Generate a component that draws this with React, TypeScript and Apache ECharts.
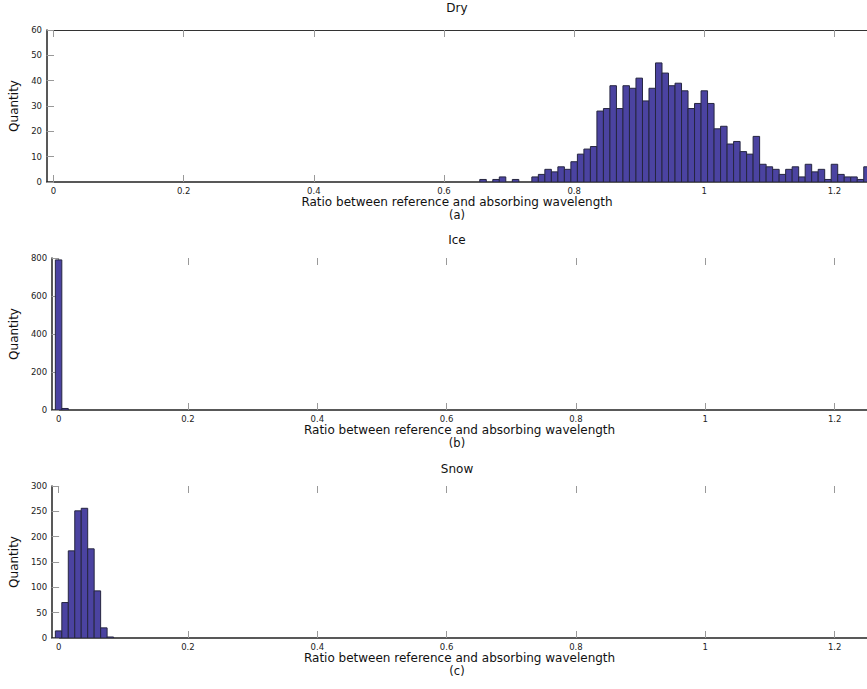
import React, { useEffect, useRef } from "react";
import * as echarts from "echarts";

// ---- Data ----
const dryBins = [
  0.66, 0.67, 0.68, 0.69, 0.7, 0.71, 0.72, 0.73, 0.74, 0.75, 0.76, 0.77, 0.78, 0.79,
  0.8, 0.81, 0.82, 0.83, 0.84, 0.85, 0.86, 0.87, 0.88, 0.89, 0.9, 0.91, 0.92, 0.93,
  0.94, 0.95, 0.96, 0.97, 0.98, 0.99, 1.0, 1.01, 1.02, 1.03, 1.04, 1.05, 1.06, 1.07,
  1.08, 1.09, 1.1, 1.11, 1.12, 1.13, 1.14, 1.15, 1.16, 1.17, 1.18, 1.19, 1.2, 1.21,
  1.22, 1.23, 1.24, 1.25,
];
const dryCounts = [
  1, 0, 1, 2, 0, 1, 0, 0, 2, 3, 5, 4, 6, 5,
  8, 11, 13, 14, 28, 29, 38, 29, 38, 37, 41, 32, 37, 47,
  43, 38, 39, 36, 29, 31, 36, 31, 21, 22, 15, 16, 12, 11,
  18, 7, 6, 5, 3, 5, 6, 2, 7, 4, 5, 1, 7, 3,
  2, 2, 1, 6,
];
const iceBins = [0, 0.01];
const iceCounts = [790, 8];
const snowBins = [0, 0.01, 0.02, 0.03, 0.04, 0.05, 0.06, 0.07, 0.08];
const snowCounts = [14, 70, 172, 251, 256, 176, 93, 20, 2];

const xTicks = [0, 0.2, 0.4, 0.6, 0.8, 1, 1.2];
const titles = ["Dry", "Ice", "Snow"];
const subLabels = ["(a)", "(b)", "(c)"];
const yMax = [60, 800, 300];
const yStep = [10, 200, 50];
const xAxisName = "Ratio between reference and absorbing wavelength";
const yAxisName = "Quantity";

// ---- Layout / style ----
const BIN_WIDTH = 0.01;
const X_MIN = -0.01;
const X_MAX = 1.25;
const GRID_LEFT = 47;
const GRID_WIDTH = 820;
const GRID_TOPS = [30, 258, 486];
const TITLE_OFFSETS = [22, 18, 17];
const GRID_HEIGHT = 152;
const BAR_FILL = "#4b43a1";
const BAR_EDGE = "#262640";
const FONT = "'DejaVu Sans', sans-serif";

export default function App() {
  const ref = useRef<HTMLDivElement>(null);

  useEffect(() => {
    if (!ref.current) return;
    const chart = echarts.init(ref.current, undefined, { renderer: "svg" });

    const datasets = [
      dryBins.map((b, i) => [b, dryCounts[i]]),
      iceBins.map((b, i) => [b, iceCounts[i]]),
      snowBins.map((b, i) => [b, snowCounts[i]]),
    ];

    const grids = GRID_TOPS.map((top) => ({
      left: GRID_LEFT,
      top,
      width: GRID_WIDTH,
      height: GRID_HEIGHT,
      containLabel: false,
    }));

    const tickFmt = (v: number) => String(Math.round(v * 10) / 10);

    const bottomX = [0, 1, 2].map((i) => ({
      type: "value",
      gridIndex: i,
      position: "bottom",
      min: X_MIN,
      max: X_MAX,
      name: xAxisName,
      nameLocation: "middle",
      nameGap: 8,
      nameTextStyle: { fontFamily: FONT, fontSize: 12, color: "#111", lineHeight: 13 },
      axisLine: { show: true, onZero: false, lineStyle: { color: "#222", width: 1.5 } },
      axisTick: {
        show: true,
        inside: true,
        length: 7,
        customValues: xTicks,
        lineStyle: { color: "#999", width: 1 },
      },
      axisLabel: {
        show: true,
        customValues: xTicks,
        formatter: tickFmt,
        fontFamily: FONT,
        fontSize: 8.5,
        color: "#222",
        margin: 4,
      },
      splitLine: { show: false },
    }));

    const topX = [0, 1, 2].map((i) => ({
      type: "value",
      gridIndex: i,
      position: "top",
      min: X_MIN,
      max: X_MAX,
      axisLine: { show: i === 0, onZero: false, lineStyle: { color: "#333", width: 1.2 } },
      axisTick: {
        show: true,
        inside: true,
        length: 7,
        customValues: xTicks,
        lineStyle: { color: "#999", width: 1 },
      },
      axisLabel: { show: false },
      splitLine: { show: false },
    }));

    const leftY = [0, 1, 2].map((i) => ({
      type: "value",
      gridIndex: i,
      position: "left",
      min: 0,
      max: yMax[i],
      interval: yStep[i],
      name: yAxisName,
      nameLocation: "middle",
      nameGap: 21,
      nameTextStyle: { fontFamily: FONT, fontSize: 12, color: "#111" },
      axisLine: { show: true, onZero: false, lineStyle: { color: "#222", width: 1.5 } },
      axisTick: { show: true, inside: true, length: 7, lineStyle: { color: "#999", width: 1 } },
      axisLabel: { fontFamily: FONT, fontSize: 8.5, color: "#222", margin: 5 },
      splitLine: { show: false },
    }));

    const rightY = [0, 1, 2].map((i) => ({
      type: "value",
      gridIndex: i,
      position: "right",
      min: 0,
      max: yMax[i],
      interval: yStep[i],
      axisLine: { show: false },
      axisTick: { show: true, inside: true, length: 7, lineStyle: { color: "#999", width: 1 } },
      axisLabel: { show: false },
      splitLine: { show: false },
    }));

    const series = [0, 1, 2].map((i) => ({
      type: "custom",
      xAxisIndex: i,
      yAxisIndex: i,
      clip: true,
      data: datasets[i],
      renderItem: (_params: any, api: any) => {
        const x = api.value(0);
        const y = api.value(1);
        if (!y) return null;
        const p0 = api.coord([x - BIN_WIDTH / 2, 0]);
        const p1 = api.coord([x + BIN_WIDTH / 2, y]);
        return {
          type: "rect",
          shape: {
            x: p0[0],
            y: p1[1],
            width: p1[0] - p0[0],
            height: p0[1] - p1[1],
          },
          style: { fill: BAR_FILL, stroke: BAR_EDGE, lineWidth: 1 },
        };
      },
    }));

    const centerX = GRID_LEFT + GRID_WIDTH / 2;
    const graphics: any[] = [];
    titles.forEach((t, i) => {
      graphics.push({
        type: "text",
        x: centerX,
        y: GRID_TOPS[i] - TITLE_OFFSETS[i],
        style: {
          text: t,
          fontFamily: FONT,
          fontSize: 12,
          fill: "#111",
          textAlign: "center",
          textVerticalAlign: "middle",
        },
      });
      graphics.push({
        type: "text",
        x: centerX,
        y: GRID_TOPS[i] + GRID_HEIGHT + 33,
        style: {
          text: subLabels[i],
          fontFamily: FONT,
          fontSize: 11.5,
          fill: "#111",
          textAlign: "center",
          textVerticalAlign: "middle",
        },
      });
    });

    chart.setOption({
      animation: false,
      backgroundColor: "#fff",
      grid: grids,
      xAxis: [...bottomX, ...topX],
      yAxis: [...leftY, ...rightY],
      series,
      graphic: graphics,
    });

    return () => chart.dispose();
  }, []);

  return (
    <div
      ref={ref}
      style={{ position: "fixed", left: 0, top: 0, width: 867, height: 689 }}
    />
  );
}
